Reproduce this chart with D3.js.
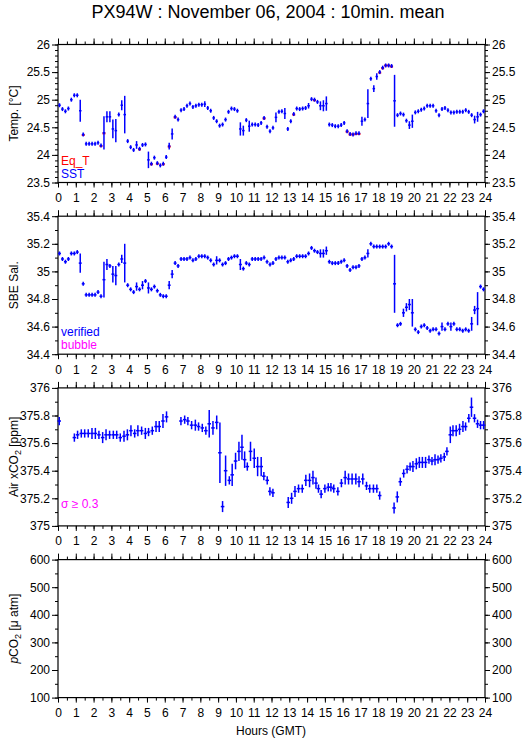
<!DOCTYPE html>
<html lang="en">
<head>
<meta charset="utf-8">
<title>PX94W : November 06, 2004 : 10min. mean</title>
<script src="https://cdn.jsdelivr.net/npm/d3@7"></script>
<style>
  body { margin: 0; background: #fff; }
  text { font-family: "Liberation Sans", Arial, Helvetica, sans-serif; }
</style>
</head>
<body>
<script>

// chart size
var w = 529, h = 739;

// hour ticks shared by every panel
var hourTicks = d3.range(0, 25);

// 10 min means, 144 per day (index 0 = 00:00-00:10 GMT)
var sst = [
  24.90,24.83,24.79,24.84,25.00,25.08,25.08,24.80,24.37,24.20,24.20,24.20,
  24.20,24.22,24.17,24.40,24.69,24.69,24.47,24.44,24.73,24.90,24.73,24.25,
  24.14,24.09,24.18,24.11,24.18,24.19,23.91,23.84,23.95,23.85,23.81,23.84,
  23.96,24.16,24.38,24.69,24.64,24.81,24.83,24.89,24.93,24.87,24.89,24.91,
  24.91,24.92,24.85,24.80,24.67,24.61,24.53,24.55,24.64,24.78,24.84,24.83,
  24.80,24.47,24.44,24.63,24.52,24.55,24.55,24.54,24.58,24.67,24.51,24.43,
  24.49,24.68,24.78,24.79,24.75,24.47,24.61,24.74,24.84,24.83,24.84,24.85,
  24.89,25.01,25.00,24.96,24.89,24.89,24.93,24.55,24.54,24.52,24.52,24.54,
  24.58,24.43,24.38,24.37,24.39,24.39,24.61,24.64,24.93,25.38,25.20,25.42,
  25.50,25.58,25.62,25.62,25.61,24.98,24.72,24.75,24.73,24.62,24.54,24.61,
  24.77,24.79,24.82,24.84,24.89,24.89,24.89,24.80,24.72,24.83,24.85,24.81,
  24.77,24.77,24.78,24.78,24.78,24.81,24.78,24.72,24.64,24.69,24.73,24.79
];
var sstSd = [
  .02,.02,.02,.02,.02,.02,.02,.20,.02,.02,.02,.02,
  .02,.02,.02,.30,.10,.10,.17,.21,.02,.09,.34,.02,
  .02,.02,.07,.02,.02,.02,.15,.02,.02,.02,.02,.02,
  .02,.06,.10,.02,.02,.02,.02,.02,.02,.02,.02,.02,
  .02,.05,.02,.02,.02,.02,.02,.02,.02,.02,.02,.02,
  .02,.12,.09,.02,.10,.02,.02,.02,.02,.02,.02,.02,
  .02,.09,.02,.02,.10,.02,.02,.02,.02,.02,.02,.02,
  .05,.02,.02,.02,.08,.10,.13,.02,.02,.02,.02,.02,
  .02,.02,.02,.02,.02,.02,.08,.02,.26,.02,.06,.06,
  .02,.02,.02,.02,.02,.47,.02,.02,.02,.02,.07,.12,
  .02,.02,.02,.02,.02,.02,.02,.02,.02,.02,.02,.02,
  .02,.02,.02,.02,.02,.02,.02,.02,.07,.09,.02,.02
];

// Eq_T, only the slots where it shows from under SST
var eqtIdx = [8, 14, 15, 27, 31, 33, 35, 37, 39, 69, 79, 86, 97, 98, 99, 100, 101, 108, 109, 110, 111, 112];
var eqtVal = [24.36, 24.16, 24.39, 24.10, 23.83, 23.84, 23.83, 24.15, 24.68, 24.66, 24.73, 24.99,
              24.42, 24.37, 24.37, 24.38, 24.38, 25.49, 25.57, 25.62, 25.62, 25.60];

var sal = [
  35.13,35.09,35.07,35.09,35.13,35.13,35.14,35.06,34.91,34.83,34.83,34.83,
  34.83,34.85,34.82,34.94,35.05,35.04,34.98,34.97,35.05,35.09,35.06,34.90,
  34.87,34.85,34.89,34.87,34.90,34.93,34.88,34.87,34.89,34.86,34.83,34.82,
  34.82,34.90,34.98,35.06,35.04,35.09,35.09,35.09,35.10,35.08,35.09,35.11,
  35.11,35.11,35.10,35.08,35.05,35.08,35.08,35.05,35.06,35.09,35.10,35.11,
  35.11,35.05,35.02,35.06,35.05,35.09,35.09,35.09,35.09,35.10,35.07,35.05,
  35.06,35.09,35.10,35.10,35.10,35.07,35.08,35.09,35.11,35.11,35.11,35.11,
  35.13,35.17,35.15,35.14,35.13,35.13,35.15,35.07,35.06,35.06,35.06,35.07,
  35.08,35.04,35.01,35.03,35.03,35.04,35.09,35.10,35.13,35.20,35.18,35.18,
  35.18,35.18,35.18,35.20,35.18,34.91,34.61,34.62,34.70,34.74,34.76,34.70,
  34.58,34.56,34.60,34.61,34.59,34.57,34.58,34.58,34.55,34.60,34.58,34.62,
  34.60,34.62,34.58,34.58,34.57,34.58,34.57,34.62,34.72,34.73,34.89,34.87
];
var salSd = [
  .01,.01,.01,.01,.01,.01,.01,.07,.01,.01,.01,.01,
  .01,.01,.01,.13,.04,.01,.06,.07,.01,.03,.14,.01,
  .01,.01,.03,.01,.03,.01,.04,.01,.01,.01,.01,.01,
  .01,.03,.03,.01,.01,.01,.01,.01,.01,.01,.01,.01,
  .01,.01,.01,.01,.01,.03,.01,.01,.01,.01,.01,.01,
  .01,.04,.01,.01,.01,.01,.01,.01,.01,.01,.01,.01,
  .01,.01,.01,.01,.01,.01,.01,.01,.01,.01,.01,.01,
  .01,.01,.01,.01,.03,.03,.03,.01,.01,.01,.01,.01,
  .01,.01,.01,.01,.01,.01,.01,.01,.03,.01,.01,.01,
  .01,.01,.01,.01,.01,.21,.01,.01,.03,.03,.04,.10,
  .01,.01,.01,.01,.01,.01,.01,.01,.01,.03,.01,.01,
  .03,.01,.01,.01,.01,.01,.01,.05,.03,.12,.01,.01
];

// Air xCO2 [ppm], hour of each measurement
var co2Hour = [
  0.07, 0.92, 1.10, 1.31, 1.50, 1.70, 1.91, 2.10, 2.30, 2.51, 2.70, 2.90, 3.11, 3.30,
  3.50, 3.71, 3.90, 4.10, 4.31, 4.49, 4.70, 4.91, 5.09, 5.30, 5.51, 5.69, 5.90, 6.10,
  6.91, 7.12, 7.30, 7.51, 7.72, 7.90, 8.11, 8.31, 8.50, 8.71, 8.92, 9.10, 9.25, 9.42,
  9.63, 9.79, 9.98, 10.17, 10.34, 10.49, 10.64, 10.82, 11.03, 11.22, 11.42, 11.57, 11.76, 11.91,
  12.08, 12.94, 13.13, 13.32, 13.52, 13.73, 13.93, 14.14, 14.33, 14.50, 14.64, 14.79, 15.00, 15.19,
  15.34, 15.50, 15.73, 15.93, 16.14, 16.33, 16.53, 16.74, 16.92, 17.13, 17.34, 17.52, 17.73, 17.92,
  18.08, 18.89, 19.07, 19.24, 19.43, 19.62, 19.79, 19.95, 20.14, 20.31, 20.48, 20.66, 20.85, 21.02,
  21.19, 21.36, 21.52, 21.71, 21.86, 22.05, 22.20, 22.38, 22.57, 22.76, 22.91, 23.09, 23.24, 23.41,
  23.58, 23.75, 23.92
];
var co2Val = [
  375.76, 375.64, 375.66, 375.67, 375.67, 375.67, 375.67, 375.67, 375.66, 375.64, 375.66, 375.66, 375.66, 375.66,
  375.64, 375.65, 375.66, 375.69, 375.67, 375.69, 375.69, 375.67, 375.68, 375.69, 375.72, 375.72, 375.76, 375.79,
  375.76, 375.77, 375.76, 375.73, 375.73, 375.72, 375.71, 375.69, 375.74, 375.71, 375.75, 375.53, 375.14, 375.40,
  375.33, 375.37, 375.47, 375.54, 375.57, 375.48, 375.43, 375.54, 375.49, 375.43, 375.43, 375.36, 375.33, 375.25,
  375.24, 375.17, 375.20, 375.25, 375.27, 375.27, 375.33, 375.33, 375.35, 375.31, 375.27, 375.23, 375.27, 375.28,
  375.28, 375.27, 375.25, 375.31, 375.35, 375.34, 375.34, 375.34, 375.32, 375.34, 375.29, 375.27, 375.27, 375.27,
  375.22, 375.13, 375.21, 375.32, 375.38, 375.41, 375.43, 375.43, 375.45, 375.46, 375.46, 375.46, 375.48, 375.47,
  375.48, 375.48, 375.49, 375.50, 375.54, 375.66, 375.69, 375.69, 375.70, 375.72, 375.72, 375.78, 375.86, 375.78,
  375.74, 375.73, 375.73
];
var co2Sd = [
  0.03, 0.03, 0.03, 0.03, 0.03, 0.03, 0.04, 0.04, 0.03, 0.04, 0.04, 0.03, 0.03, 0.03,
  0.03, 0.04, 0.04, 0.04, 0.03, 0.04, 0.03, 0.04, 0.03, 0.03, 0.04, 0.04, 0.05, 0.04,
  0.03, 0.03, 0.03, 0.03, 0.04, 0.03, 0.03, 0.03, 0.10, 0.05, 0.05, 0.22, 0.04, 0.11,
  0.03, 0.08, 0.06, 0.07, 0.09, 0.06, 0.03, 0.07, 0.07, 0.07, 0.07, 0.03, 0.03, 0.03,
  0.03, 0.04, 0.04, 0.04, 0.03, 0.03, 0.04, 0.05, 0.05, 0.04, 0.03, 0.03, 0.03, 0.03,
  0.03, 0.03, 0.03, 0.03, 0.05, 0.04, 0.04, 0.04, 0.04, 0.04, 0.03, 0.03, 0.03, 0.03,
  0.03, 0.04, 0.04, 0.03, 0.03, 0.03, 0.03, 0.04, 0.04, 0.04, 0.04, 0.04, 0.03, 0.03,
  0.04, 0.03, 0.03, 0.03, 0.03, 0.06, 0.04, 0.04, 0.04, 0.04, 0.03, 0.03, 0.07, 0.03,
  0.03, 0.03, 0.03
];

// panel y ranges and ticks
var yDomains = [[23.5, 26], [34.4, 35.4], [375, 376], [100, 600]];
var yMajor = [0.5, 0.2, 0.2, 100];
var yMinor = [0.1, 0.1, 0.1, 50];

var blue = "#0000ff", red = "#ff0000", magenta = "#ff00ff";

var left = 58, right = 485, ph = 138;
function panelTop(i) { return 44.5 + i * 171.7; }

var svg = d3.select("body").append("svg")
    .attr("width", w)
    .attr("height", h);

svg.append("text")
    .attr("x", 268)
    .attr("y", 18)
    .attr("text-anchor", "middle")
    .attr("font-size", "18px")
    .text("PX94W : November 06, 2004 : 10min. mean");

var x = d3.scaleLinear().domain([0, 24]).range([left, right]);

function fmt(d) { return String(+d.toFixed(1)); }

function ticksOf(dom, step) {
    var n = Math.round((dom[1] - dom[0]) / step);
    return d3.range(n + 1).map(function(k) { return dom[0] + k * step; });
}

var ys = [];

yDomains.forEach(function(dom, i) {
    var top = panelTop(i), bot = top + ph;
    var y = d3.scaleLinear().domain(dom).range([bot, top]);
    ys.push(y);
    var g = svg.append("g");

    var major = ticksOf(dom, yMajor[i]);
    var minor = ticksOf(dom, yMinor[i]);
    var halfHours = d3.range(0, 48).map(function(k) { return k / 2 + 0.5; });

    function axisStyle(a) {
        a.select(".domain").remove();
        a.selectAll("line").attr("stroke", "#000");
        a.selectAll("text").attr("font-size", "12px").attr("fill", "#000")
            .attr("font-family", "\"Liberation Sans\", Arial, sans-serif");
    }

    // left
    g.append("g").attr("transform", "translate(" + left + ",0)")
        .call(d3.axisLeft(y).tickValues(minor).tickSize(3).tickFormat(""))
        .call(axisStyle);
    g.append("g").attr("transform", "translate(" + left + ",0)")
        .call(d3.axisLeft(y).tickValues(major).tickSize(6).tickPadding(2).tickFormat(fmt))
        .call(axisStyle);
    // right
    g.append("g").attr("transform", "translate(" + right + ",0)")
        .call(d3.axisRight(y).tickValues(minor).tickSize(3).tickFormat(""))
        .call(axisStyle);
    g.append("g").attr("transform", "translate(" + right + ",0)")
        .call(d3.axisRight(y).tickValues(major).tickSize(5).tickPadding(2).tickFormat(fmt))
        .call(axisStyle);
    // top
    g.append("g").attr("transform", "translate(0," + top + ")")
        .call(d3.axisTop(x).tickValues(halfHours).tickSize(3).tickFormat(""))
        .call(axisStyle);
    g.append("g").attr("transform", "translate(0," + top + ")")
        .call(d3.axisTop(x).tickValues(hourTicks).tickSize(6).tickFormat(""))
        .call(axisStyle);
    // bottom
    g.append("g").attr("transform", "translate(0," + bot + ")")
        .call(d3.axisBottom(x).tickValues(halfHours).tickSize(3).tickFormat(""))
        .call(axisStyle);
    g.append("g").attr("transform", "translate(0," + bot + ")")
        .call(d3.axisBottom(x).tickValues(hourTicks).tickSize(5).tickPadding(6).tickFormat(d3.format("d")))
        .call(axisStyle);

    g.append("rect")
        .attr("x", left).attr("y", top)
        .attr("width", right - left).attr("height", ph)
        .attr("fill", "none").attr("stroke", "#000").attr("stroke-width", 1.2);
});

// y titles
var titles = svg.append("g").attr("font-size", "12px");
function yTitle(i) {
    var cy = panelTop(i) + ph / 2;
    return titles.append("text")
        .attr("transform", "translate(18," + cy + ") rotate(-90)")
        .attr("text-anchor", "middle");
}
yTitle(0).text("Temp. [\u00b0C]");
yTitle(1).text("SBE Sal.");
var t2 = yTitle(2);
t2.append("tspan").text("Air xCO");
t2.append("tspan").attr("font-size", "9px").attr("dy", 3).text("2");
t2.append("tspan").attr("dy", -3).text(" [ppm]");
var t3 = yTitle(3);
t3.append("tspan").attr("font-style", "italic").text("p");
t3.append("tspan").text("CO");
t3.append("tspan").attr("font-size", "9px").attr("dy", 3).text("2");
t3.append("tspan").attr("dy", -3).text(" [\u03bc atm]");

svg.append("text")
    .attr("x", 271).attr("y", 735)
    .attr("text-anchor", "middle")
    .attr("font-size", "12px")
    .text("Hours (GMT)");

// cross markers: horizontal = averaging interval, vertical = +/- sd
function crosses(y, times, vals, sds, halfW, color) {
    var g = svg.append("g").attr("stroke", color).attr("stroke-width", 1.5);
    var pts = vals.map(function(v, i) { return { t: times[i], v: v, s: sds ? sds[i] : 0 }; })
        .filter(function(d) { return d.v != null; });
    g.selectAll("line.hz").data(pts).enter().append("line")
        .attr("x1", function(d) { return x(d.t - halfW); })
        .attr("x2", function(d) { return x(d.t + halfW); })
        .attr("y1", function(d) { return y(d.v); })
        .attr("y2", function(d) { return y(d.v); });
    g.selectAll("line.vt").data(pts).enter().append("line")
        .attr("x1", function(d) { return x(d.t); })
        .attr("x2", function(d) { return x(d.t); })
        .attr("y1", function(d) { return Math.min(y(d.v + d.s), y(d.v) - 2); })
        .attr("y2", function(d) { return Math.max(y(d.v - d.s), y(d.v) + 2); });
}

var tenMin = d3.range(144).map(function(i) { return (i + 0.5) / 6; });

// Eq_T (red, under SST)
var eqg = svg.append("g").attr("stroke", red).attr("stroke-width", 2);
eqg.selectAll("line").data(eqtIdx).enter().append("line")
    .attr("x1", function(d) { return x(d / 6); })
    .attr("x2", function(d) { return x((d + 1) / 6); })
    .attr("y1", function(d, i) { return ys[0](eqtVal[i]); })
    .attr("y2", function(d, i) { return ys[0](eqtVal[i]); });

crosses(ys[0], tenMin, sst, sstSd, 1 / 14, blue);
crosses(ys[1], tenMin, sal, salSd, 1 / 12, blue);
crosses(ys[2], co2Hour, co2Val, co2Sd, 0.1, blue);

// legends
function legend(i, dy, color, txt) {
    return svg.append("text")
        .attr("x", 61)
        .attr("y", panelTop(i) + ph - dy)
        .attr("font-size", "12px")
        .attr("fill", color)
        .text(txt);
}
legend(0, 18, red, "Eq_T");
legend(0, 5, blue, "SST");
legend(1, 18, blue, "verified");
legend(1, 5, magenta, "bubble");
legend(2, 18, magenta, "\u03c3 \u2265 0.3");

</script>
</body>
</html>
